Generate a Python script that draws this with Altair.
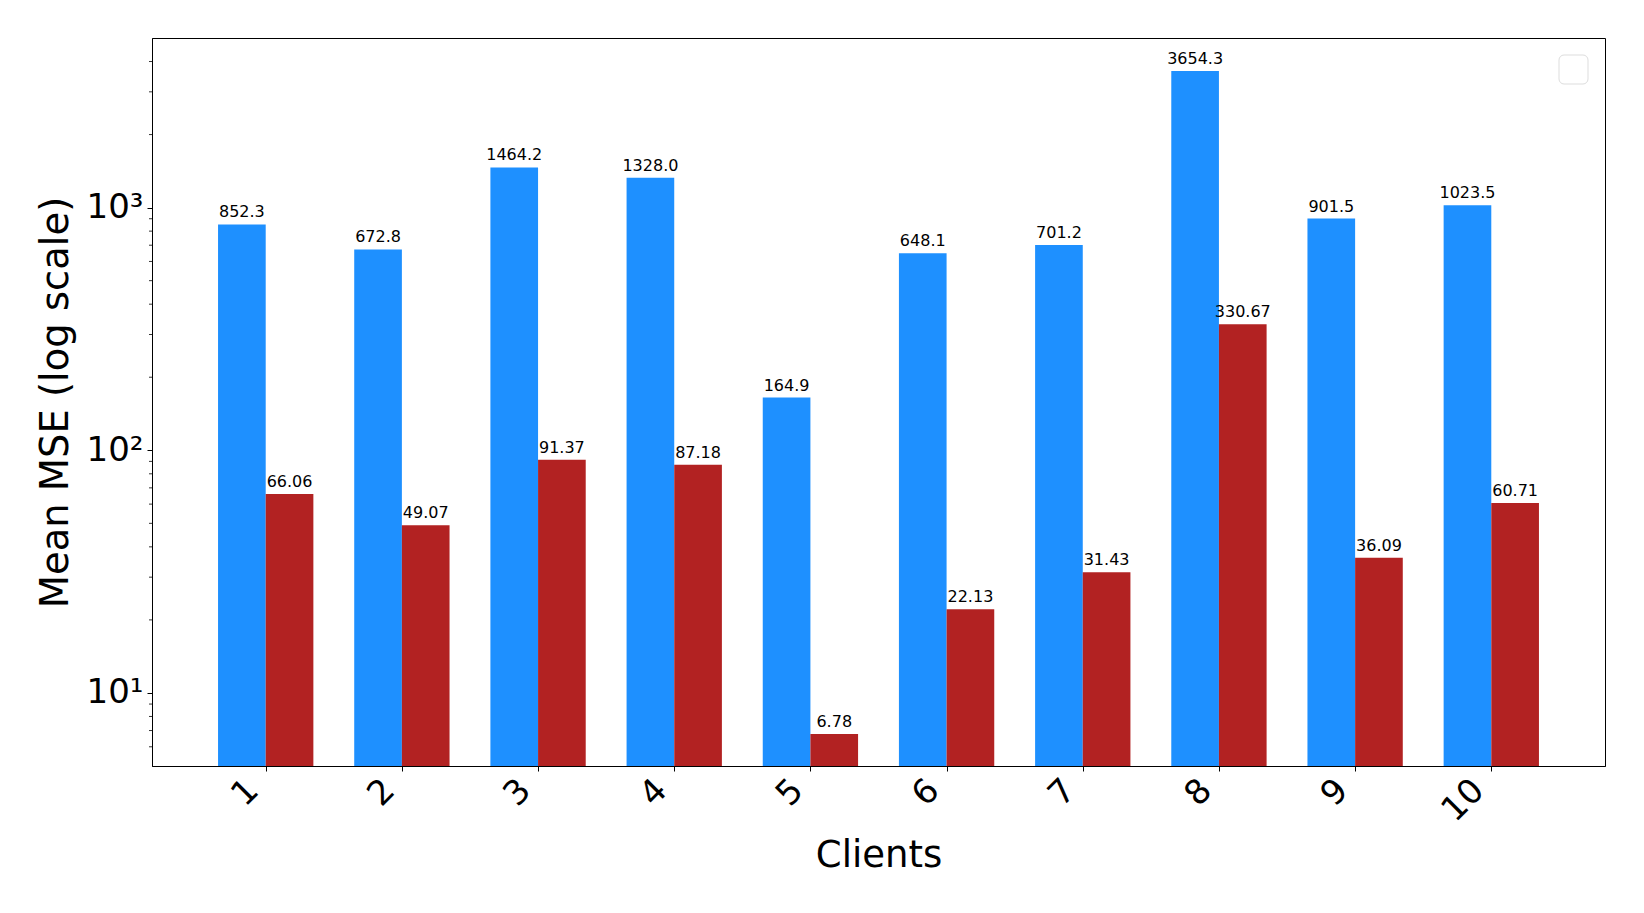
import altair as alt
import pandas as pd

clients = ["1", "2", "3", "4", "5", "6", "7", "8", "9", "10"]
blue_vals = [852.3, 672.8, 1464.2, 1328.0, 164.9, 648.1, 701.2, 3654.3, 901.5, 1023.5]
red_vals = [66.06, 49.07, 91.37, 87.18, 6.78, 22.13, 31.43, 330.67, 36.09, 60.71]
minor_ticks = [6, 7, 8, 9, 20, 30, 40, 50, 60, 70, 80, 90,
               200, 300, 400, 500, 600, 700, 800, 900, 2000, 3000, 4000]
major_ticks = [10, 100, 1000]

Y_MIN, Y_MAX = 5, 5000
W = 0.35
FONT = "DejaVu Sans"
BLUE = "#1E90FF"
RED = "#B22222"

rows = []
for i, c in enumerate(clients):
    rows.append({"idx": i, "x0": i - W, "x1": i, "xc": i - W / 2, "v": blue_vals[i],
                 "base": Y_MIN, "s": "blue", "lab": f"{blue_vals[i]:.1f}"})
    rows.append({"idx": i, "x0": i, "x1": i + W, "xc": i + W / 2, "v": red_vals[i],
                 "base": Y_MIN, "s": "red", "lab": f"{red_vals[i]:.2f}"})
df = pd.DataFrame(rows)
minor_df = pd.DataFrame({"m": minor_ticks})

xscale = alt.Scale(domain=[-0.835, 9.835], nice=False, zero=False)
yscale = alt.Scale(type="log", domain=[Y_MIN, Y_MAX], nice=False)

xaxis = alt.Axis(values=list(range(10)), labelExpr="datum.value + 1", grid=False,
                 labelAngle=-45, labelAlign="right", labelBaseline="middle",
                 labelFontSize=34, labelFont=FONT, labelColor="black",
                 labelPadding=14, labelOffset=-13,
                 tickSize=5, tickColor="black", domainColor="black",
                 title="Clients", titleFontSize=37, titleFont=FONT, titleFontWeight="normal",
                 titleColor="black", titleY=100, titleBaseline="alphabetic")
yaxis = alt.Axis(values=major_ticks,
                 labelExpr="datum.value == 10 ? '10¹' : datum.value == 100 ? '10²' : '10³'",
                 grid=False, labelFontSize=34, labelFont=FONT, labelColor="black",
                 labelPadding=4, tickSize=5, tickColor="black", domainColor="black",
                 title="Mean MSE (log scale)", titleFontSize=38.5, titleFont=FONT,
                 titleFontWeight="normal", titleColor="black", titleX=-85,
                 titleBaseline="alphabetic", titleAngle=-90)

bars = alt.Chart(df).mark_bar().encode(
    x=alt.X("x0:Q", scale=xscale, axis=xaxis),
    x2="x1:Q",
    y=alt.Y("v:Q", scale=yscale, axis=yaxis),
    y2="base:Q",
    color=alt.Color("s:N", scale=alt.Scale(domain=["blue", "red"], range=[BLUE, RED]), legend=None),
)

labels = alt.Chart(df).mark_text(font=FONT, fontSize=16, color="black", dy=-7,
                                 baseline="alphabetic", align="center").encode(
    x=alt.X("xc:Q", scale=xscale, axis=xaxis),
    y=alt.Y("v:Q", scale=yscale, axis=yaxis),
    text="lab:N",
)

minor = alt.Chart(minor_df).mark_rule(color="black", strokeWidth=0.8).encode(
    y=alt.Y("m:Q", scale=yscale, axis=yaxis),
    x=alt.value(-3),
    x2=alt.value(0),
)

legend_box = alt.Chart(pd.DataFrame({"a": [0]})).mark_rect(
    fill="white", stroke="#dddddd", strokeWidth=1, cornerRadius=5).encode(
    x=alt.value(1407), x2=alt.value(1436), y=alt.value(17), y2=alt.value(46))

chart = alt.layer(bars, labels, minor, legend_box).properties(
    width=1453, height=728,
    autosize=alt.AutoSizeParams(type="none"),
    padding={"left": 144, "top": 30, "right": 30, "bottom": 120},
).configure(background="white").configure_view(stroke="black", strokeWidth=1)

chart.save("out.html", embed_options={"renderer": "svg", "actions": False})
